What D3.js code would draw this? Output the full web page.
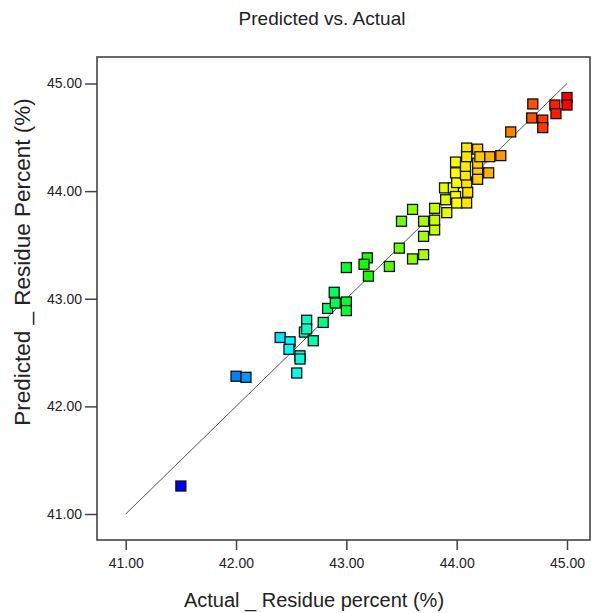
<!DOCTYPE html>
<html>
<head>
<meta charset="utf-8">
<script src="https://cdn.jsdelivr.net/npm/d3@7"></script>
<style>
  body { margin: 0; background: #fff; }
  text { font-family: "Liberation Sans", Arial, sans-serif; fill: #222; }
</style>
</head>
<body>
<div id="chart"></div>
<script>

// actual vs predicted values
var actual = [41.50, 42.00, 42.09, 42.40, 42.49, 42.48, 42.58, 42.58, 42.55, 42.64,
    42.62, 42.70, 42.64, 42.79, 42.83, 42.89, 42.90, 43.00, 43.00, 43.00,
    43.19, 43.16, 43.20, 43.39, 43.48, 43.60, 43.70, 43.70, 43.80, 43.50,
    43.60, 43.70, 43.80, 43.80, 43.91, 43.90, 43.89, 43.97, 43.99, 44.00,
    44.09, 44.10, 44.00, 44.09, 43.99, 44.08, 44.19, 44.29, 44.19, 43.99,
    44.08, 44.19, 44.09, 44.19, 44.09, 44.21, 44.30, 44.40, 44.49, 44.69,
    44.68, 44.78, 44.78, 44.89, 44.90, 45.00, 45.00];
var predicted = [41.26, 42.28, 42.27, 42.64, 42.60, 42.53, 42.47, 42.44, 42.31, 42.80,
    42.69, 42.61, 42.72, 42.78, 42.91, 43.06, 42.96, 42.97, 42.89, 43.29,
    43.38, 43.32, 43.21, 43.30, 43.47, 43.37, 43.41, 43.58, 43.64, 43.72,
    43.83, 43.72, 43.73, 43.84, 43.80, 43.92, 44.03, 44.03, 43.95, 43.89,
    43.89, 43.99, 44.08, 44.08, 44.17, 44.15, 44.18, 44.17, 44.11, 44.27,
    44.23, 44.26, 44.40, 44.39, 44.32, 44.32, 44.32, 44.33, 44.55, 44.81,
    44.68, 44.66, 44.59, 44.80, 44.72, 44.87, 44.80];
var ticks = [41, 42, 43, 44, 45];

var svgWidth = 593;
var svgHeight = 613;
var box = { left: 97, right: 590, top: 57, bottom: 540 };

var x = d3.scaleLinear().domain([41, 45]).range([125.7, 567]);
var y = d3.scaleLinear().domain([41, 45]).range([514, 83.5]);

var color = d3.scaleLinear()
    .domain([41.5, 42.5, 43.1, 44.0, 45.0])
    .range(["#0000ff", "#00ffff", "#00ff00", "#ffff00", "#ff0000"]);

var data = actual.map(function (d, i) { return { a: d, p: predicted[i] }; });

var svg = d3.select("#chart").append("svg")
    .attr("width", svgWidth)
    .attr("height", svgHeight);

// title
svg.append("text")
    .attr("x", 322).attr("y", 25)
    .attr("text-anchor", "middle")
    .style("font-size", "19px")
    .text("Predicted vs. Actual");

// frame
svg.append("rect")
    .attr("x", box.left).attr("y", box.top)
    .attr("width", box.right - box.left)
    .attr("height", box.bottom - box.top)
    .attr("fill", "none")
    .attr("stroke", "#444")
    .attr("stroke-width", 1.6);

// x axis
var xAxis = svg.append("g")
    .attr("transform", "translate(0," + box.bottom + ")")
    .call(d3.axisBottom(x).tickValues(ticks).tickSize(10).tickPadding(8)
        .tickFormat(d3.format(".2f")));
xAxis.select(".domain").remove();
xAxis.selectAll("line").attr("stroke", "#444").attr("stroke-width", 1.5);
xAxis.selectAll("text").style("font-size", "14px").attr("fill", "#222");

// y axis
var yAxis = svg.append("g")
    .attr("transform", "translate(" + box.left + ",0)")
    .call(d3.axisLeft(y).tickValues(ticks).tickSize(12).tickPadding(3)
        .tickFormat(d3.format(".2f")));
yAxis.select(".domain").remove();
yAxis.selectAll("line").attr("stroke", "#444").attr("stroke-width", 1.5);
yAxis.selectAll("text").style("font-size", "14px").attr("fill", "#222");

// axis titles
svg.append("text")
    .attr("x", 314).attr("y", 607)
    .attr("text-anchor", "middle")
    .style("font-size", "20px")
    .text("Actual _ Residue percent (%)");

svg.append("text")
    .attr("transform", "translate(30,262) rotate(-90)")
    .attr("text-anchor", "middle")
    .style("font-size", "22.5px")
    .text("Predicted _ Residue Percent (%)");

// reference line y = x
svg.append("line")
    .attr("x1", x(41)).attr("y1", y(41))
    .attr("x2", x(45)).attr("y2", y(45))
    .attr("stroke", "#555")
    .attr("stroke-width", 1);

// points
var s = 10;
svg.append("g").selectAll("rect")
    .data(data)
    .enter()
    .append("rect")
        .attr("x", function (d) { return x(d.a) - s / 2; })
        .attr("y", function (d) { return y(d.p) - s / 2; })
        .attr("width", s)
        .attr("height", s)
        .attr("fill", function (d) { return color(d.a); })
        .attr("stroke", "#111")
        .attr("stroke-width", 1.3);

</script>
</body>
</html>
